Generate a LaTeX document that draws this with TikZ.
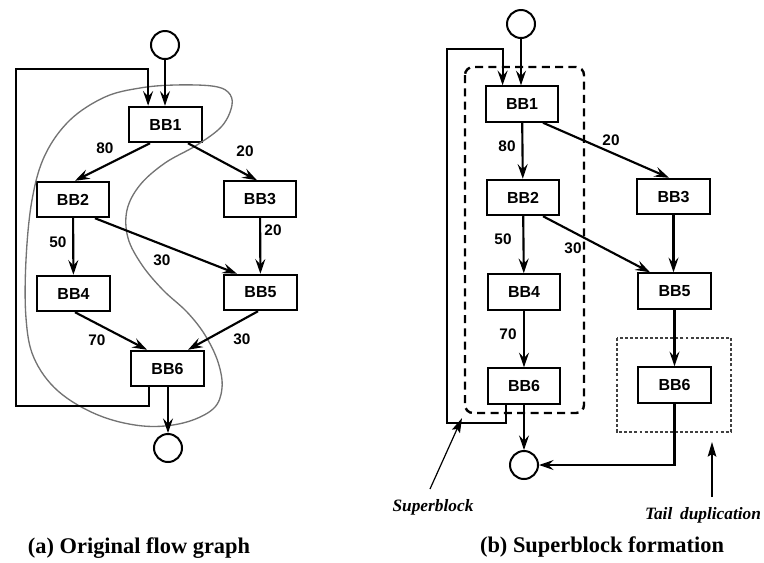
\documentclass[tikz,border=0pt]{standalone}
\usepackage{fontspec}
\setmainfont{Liberation Serif}
\newfontfamily\blockfont{Liberation Sans}
\usetikzlibrary{arrows.meta,calc}

\tikzset{
  bb/.style={draw, line width=1.6pt, minimum width=54.5pt, minimum height=26.5pt,
    inner sep=0pt, font=\blockfont\bfseries\fontsize{12}{14}\selectfont},
  term/.style={draw, circle, line width=1.5pt, minimum size=21pt, inner sep=0pt},
  link/.style={line width=1.6pt},
  flow/.style={link, -{Stealth[length=11pt,width=7.5pt,inset=4pt]}},
  wt/.style={font=\blockfont\bfseries\fontsize{11.5}{13}\selectfont, inner sep=0pt},
  caption/.style={font=\bfseries\fontsize{16.8}{20}\selectfont, inner sep=0pt},
  note/.style={font=\bfseries\itshape\fontsize{13}{15}\selectfont, inner sep=0pt},
  region/.style={draw=black!55, line width=1pt},
  superbox/.style={draw, line width=1.8pt, dash pattern=on 6pt off 4pt, rounded corners=6pt},
  tailbox/.style={draw=black!75, line width=1.6pt, dash pattern=on 2.2pt off 1.6pt},
  pointer/.style={line width=0.9pt, -{Stealth[length=11pt,width=6.5pt,inset=2pt]}},
}

\begin{document}
\begin{tikzpicture}[x=0.75pt, y=-0.75pt]
\useasboundingbox (0,0) rectangle (764,562);

% ---------------- (a) original flow graph ----------------
\node[term] (a0) at (165,45) {};
\node[bb] (aB1) at (165.5,124.5) {BB1};
\node[bb] (aB2) at (73,199.5) {BB2};
\node[bb] (aB3) at (260,199) {BB3};
\node[bb] (aB4) at (73.5,293.5) {BB4};
\node[bb] (aB5) at (260.5,292.5) {BB5};
\node[bb] (aB6) at (167.5,368.5) {BB6};
\node[term] (aX) at (168,448) {};

% trace through the hot path
\draw[region] plot[smooth cycle, tension=0.6] coordinates {
  (140,88) (175,85) (212,86) (228,92) (232,105) (222,126) (197,145)
  (165,163) (140,185) (127,210) (128,238) (142,265) (163,290) (187,312)
  (205,335) (218,362) (222,388) (213,409) (183,423) (143,426) (98,415)
  (58,391) (34,358) (26,318) (26,260) (32,200) (45,155) (70,120) (105,97)};

\draw[flow] (a0) -- (aB1.north -| a0);
\coordinate (aLoopB) at (16,406);
\coordinate (aLoopT) at (16,69);
\draw[flow] ($(aB6.south west)+(19,0)$) |- (aLoopB) -- (aLoopT)
  -| ($(aB1.north west)+(20,0)$);

\draw[flow] ($(aB1.south)+(-15.5,0)$) -- ($(aB2.north)+(2,0)$);
\draw[flow] ($(aB1.south)+(22.5,0)$) -- ($(aB3.north)+(-3,0)$);
\draw[flow] (aB2) -- (aB4);
\draw[flow] (aB3) -- (aB5);
\draw[flow] ($(aB2.south)+(22,0)$) -- ($(aB5.north)+(-23.5,0)$);
\draw[flow] ($(aB4.south)+(1.5,0)$) -- ($(aB6.north)+(-20.5,0)$);
\draw[flow] ($(aB5.south)+(-2.5,0)$) -- ($(aB6.north)+(20.5,0)$);
\draw[flow] (aB6.south -| aX) -- (aX);

\node[wt] (aW12) at (105,148) {80};
\node[wt] (aW13) at (245,151) {20};
\node[wt] (aW24) at (58,242) {50};
\node[wt] (aW35) at (273,230) {20};
\node[wt] (aW25) at (162,260) {30};
\node[wt] (aW46) at (97,340) {70};
\node[wt] (aW56) at (242,339) {30};

\node[caption] (capA) at (139,548) {(a) Original flow graph};

% ---------------- (b) superblock formation ----------------
\node[term] (b0) at (521,24) {};
\node[bb] (bB1) at (522,104) {BB1};
\node[bb] (bB2) at (523,197.5) {BB2};
\node[bb] (bB3) at (673.5,196.5) {BB3};
\node[bb] (bB4) at (524,292) {BB4};
\node[bb] (bB5) at (674.5,291) {BB5};
\node[bb] (bB6) at (524,386) {BB6};
\node[bb] (bB6d) at (674.5,385) {BB6};
\node[term] (bX) at (524,465) {};

% superblock and duplicated tail
\draw[superbox] (465,67) rectangle (584,413);
\draw[tailbox] (617,338) rectangle (731,432);

\draw[flow] (b0) -- (bB1.north -| b0);
\coordinate (bLoopB) at (447,423);
\coordinate (bLoopT) at (447,49);
\draw[flow] ($(bB6.south west)+(19,0)$) |- (bLoopB) -- (bLoopT)
  -| ($(bB1.north west)+(18,0)$);

\draw[flow] (bB1) -- (bB2);
\draw[flow] ($(bB1.south)+(21,0)$) -- ($(bB3.north)+(-4.5,0)$);
\draw[flow] (bB2) -- (bB4);
\draw[flow] ($(bB2.south)+(20,0)$) -- ($(bB5.north)+(-24.5,0)$);
\draw[flow] (bB3.south -| bB3) -- (bB5.north -| bB3);
\draw[flow] (bB4) -- (bB6);
\draw[flow] (bB5) -- (bB6d);
\draw[flow] (bB6) -- (bX);
\draw[flow] (bB6d.south) |- (bX);

\node[wt] (bW12) at (507,146) {80};
\node[wt] (bW13) at (611,140) {20};
\node[wt] (bW24) at (503,239) {50};
\node[wt] (bW25) at (573,248) {30};
\node[wt] (bW46) at (508,334) {70};

% annotations
\coordinate (sbTail) at (430,489);
\coordinate (sbTip) at (462,418);
\draw[pointer] (sbTail) -- (sbTip);
\node[note] (sbNote) at (433,507) {Superblock};

\coordinate (tdTail) at (712,497);
\coordinate (tdTip) at (712,442);
\draw[pointer] (tdTail) -- (tdTip);
\node[note] (tdNote) at (703,515) {Tail\hspace{0.45em}duplication};

\node[caption] (capB) at (602,547) {(b) Superblock formation};
\end{tikzpicture}
\end{document}
